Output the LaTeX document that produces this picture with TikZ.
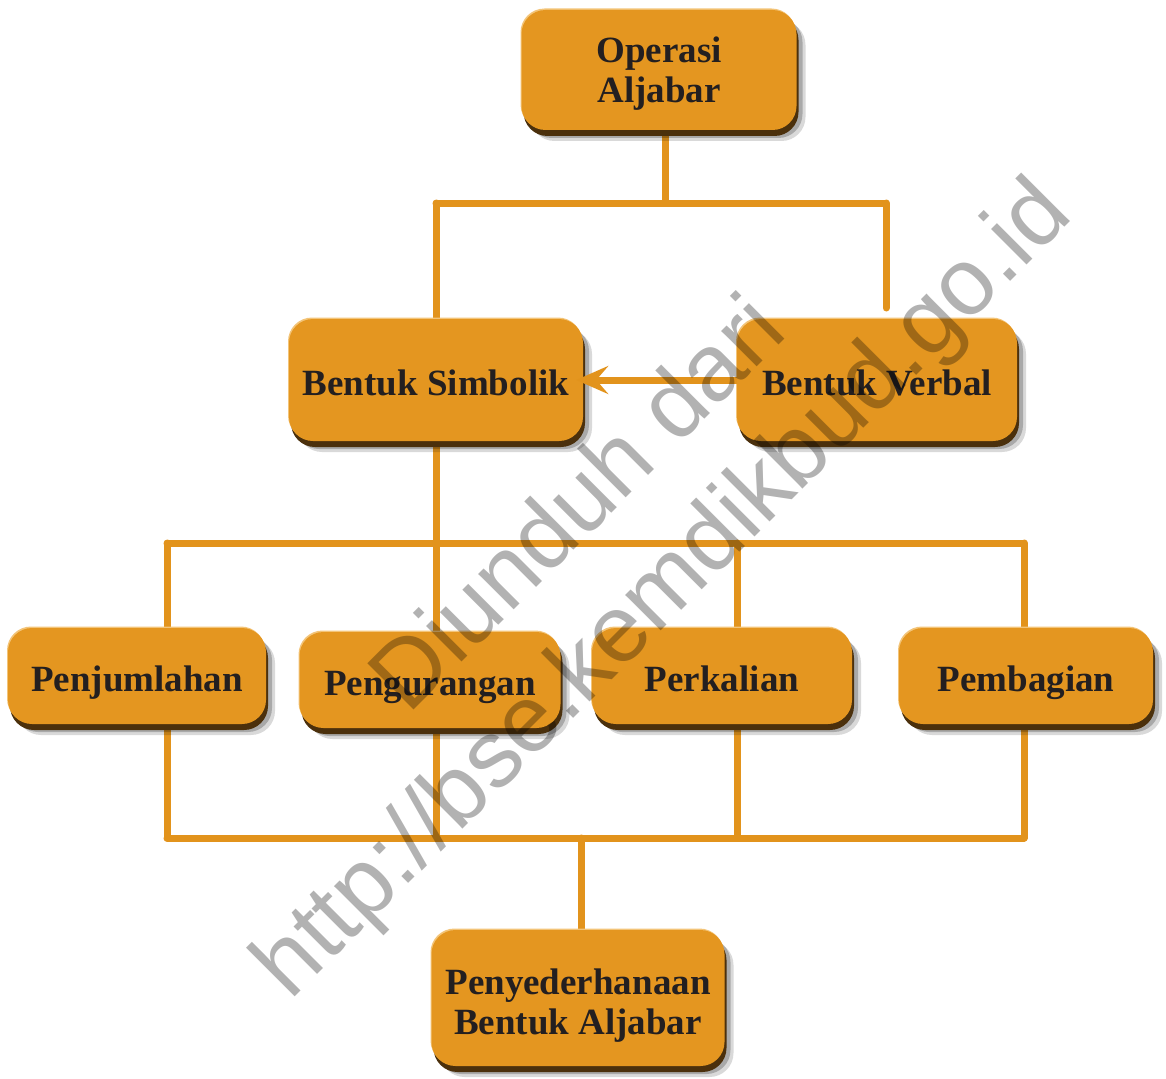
\documentclass[tikz,border=0pt]{standalone}
\usepackage{fontspec}
\setmainfont{Liberation Serif}
\newfontfamily\wmfont{Liberation Sans}
\usetikzlibrary{arrows.meta,shadows}
\definecolor{boxor}{RGB}{228,150,32}
\definecolor{lineor}{RGB}{226,147,28}
\definecolor{bevdark}{RGB}{75,48,12}
\definecolor{bevlight}{RGB}{243,196,120}
\definecolor{txt}{RGB}{35,31,32}
\pgfdeclarelayer{background}
\pgfdeclarelayer{foreground}
\pgfsetlayers{background,main,foreground}
\newcommand{\twolines}[2]{\begin{tabular}[b]{@{}c@{}}#1\\#2\end{tabular}}
\tikzset{
  box/.style={rounded corners=24pt, fill=boxor, text=txt, align=center, inner sep=0pt,
    font=\bfseries\fontsize{37}{40}\selectfont,
    preaction={fill=black, opacity=0.15, transform canvas={shift={(9pt,-11pt)}}},
    preaction={fill=black, opacity=0.22, transform canvas={shift={(6pt,-8pt)}}},
    preaction={fill=bevdark, transform canvas={shift={(2pt,-6pt)}}},
    preaction={fill=bevlight, transform canvas={shift={(-1pt,1.5pt)}}}},
  oneline/.style={text height=31pt, text depth=0pt},
  conn/.style={draw=lineor, line width=7pt, line cap=round, line join=round},
  wm/.style={font=\wmfont\fontsize{95}{95}\selectfont, text=black, opacity=0.3, rotate=45, inner sep=0pt, anchor=base}
}
\begin{document}
\begin{tikzpicture}[x=1pt,y=-1pt]
\useasboundingbox (0,0) rectangle (1166,1078);
% nodes
\node[box, minimum width=275pt, minimum height=120pt, text height=66pt, text depth=0pt] (op) at (659,70) {\twolines{Operasi}{Aljabar}};
\node[box, oneline, minimum width=294pt, minimum height=122pt] (sim) at (436,380) {Bentuk Simbolik};
\node[box, oneline, minimum width=280pt, minimum height=122pt] (ver) at (877,380) {Bentuk Verbal};
\node[box, oneline, minimum width=258pt, minimum height=96pt] (jum) at (137,676) {Penjumlahan};
\node[box, oneline, minimum width=261pt, minimum height=96pt] (kur) at (430,680) {Pengurangan};
\node[box, oneline, minimum width=260pt, minimum height=96pt] (kal) at (722,676) {Perkalian};
\node[box, oneline, minimum width=254pt, minimum height=96pt] (bag) at (1026,676) {Pembagian};
\node[box, minimum width=293pt, minimum height=136pt, text height=72pt, text depth=0pt] (sed) at (578,998) {\twolines{Penyederhanaan}{Bentuk Aljabar}};
% junction coordinates
\coordinate (top) at (665,203);
\coordinate (tl) at (436,203);
\coordinate (tr) at (886,203);
\coordinate (vend) at (886,308);
\coordinate (m1) at (167,543);
\coordinate (m3) at (737,543);
\coordinate (m4) at (1024,543);
\coordinate (b1) at (167,838);
\coordinate (b2) at (436,838);
\coordinate (b3) at (737,838);
\coordinate (b4) at (1024,838);
\coordinate (bc) at (581,838);
\begin{pgfonlayer}{background}
\draw[conn] (op.south -| top) -- (top);
\draw[conn] (tl) -- (tr);
\draw[conn] (tl) -- (tl |- sim.north);
\draw[conn] (tr) -- (vend);
\draw[conn] (sim.south) -- (sim.south |- kur.north);
\draw[conn] (m1) -- (m4);
\draw[conn] (m1) -- (m1 |- jum.north);
\draw[conn] (m3) -- (m3 |- kal.north);
\draw[conn] (m4) -- (m4 |- bag.north);
\draw[conn] (jum.south -| b1) -- (b1);
\draw[conn] (kur.south -| b2) -- (b2);
\draw[conn] (kal.south -| b3) -- (b3);
\draw[conn] (bag.south -| b4) -- (b4);
\draw[conn] (b1) -- (b4);
\draw[conn] (bc) -- (bc |- sed.north);
\end{pgfonlayer}
\draw[conn, line cap=butt, -{Stealth[length=32pt,width=28pt,inset=12pt]}, shorten >=-7pt] (ver.west) -- (sim.east);
\begin{pgfonlayer}{foreground}
\node[wm] (wm1) at (599,525) {Diunduh dari};
\node[wm] (wm2) at (683,609) {http://bse.kemdikbud.go.id};
\end{pgfonlayer}
\end{tikzpicture}
\end{document}
